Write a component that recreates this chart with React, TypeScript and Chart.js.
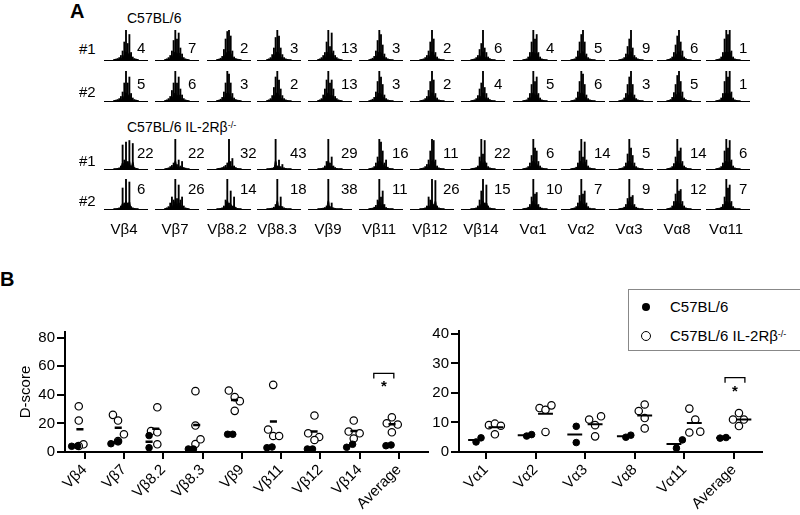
import React, { useEffect, useRef } from 'react';
import { Chart, registerables } from 'chart.js';
Chart.register(...registerables);

const FONT = 'Arial, "Liberation Sans", Helvetica, sans-serif';

// ---------- Panel A data ----------
const vbCols = ['Vβ4', 'Vβ7', 'Vβ8.2', 'Vβ8.3', 'Vβ9', 'Vβ11', 'Vβ12', 'Vβ14'];
const vaCols = ['Vα1', 'Vα2', 'Vα3', 'Vα8', 'Vα11'];
const histCols = [...vbCols, ...vaCols];

const wt1Scores = [4, 7, 2, 3, 13, 3, 2, 6, 4, 5, 9, 6, 1];
const wt2Scores = [5, 6, 3, 2, 13, 3, 2, 4, 5, 6, 3, 5, 1];
const ko1Scores = [22, 22, 32, 43, 29, 16, 11, 22, 6, 14, 5, 14, 6];
const ko2Scores = [6, 26, 14, 18, 38, 11, 26, 15, 10, 7, 9, 12, 7];

const wt1Peaks = [
  [2, 3, 5, 8, 15, 30, 60, 100, 55, 85, 25, 10, 5, 3, 2],
  [2, 4, 8, 15, 30, 65, 100, 70, 90, 40, 20, 8, 4, 2, 1],
  [2, 3, 6, 12, 35, 70, 95, 100, 80, 30, 10, 5, 3, 2, 1],
  [2, 4, 8, 18, 40, 75, 100, 80, 40, 18, 8, 4, 2, 1, 1],
  [2, 4, 8, 15, 25, 60, 100, 45, 90, 30, 15, 8, 4, 2, 1],
  [1, 3, 6, 12, 30, 65, 100, 85, 50, 20, 8, 4, 2, 1, 1],
  [1, 2, 4, 8, 15, 30, 60, 100, 70, 25, 10, 4, 2, 1, 1],
  [1, 2, 4, 8, 15, 35, 55, 100, 40, 25, 10, 5, 2, 1, 1],
  [1, 2, 4, 10, 25, 60, 100, 70, 85, 25, 10, 4, 2, 1, 1],
  [1, 2, 4, 10, 30, 60, 85, 100, 60, 20, 8, 4, 2, 1, 1],
  [1, 2, 4, 8, 20, 45, 70, 100, 40, 15, 8, 4, 2, 1, 1],
  [1, 2, 5, 10, 25, 50, 80, 100, 60, 30, 10, 5, 2, 1, 1],
  [1, 2, 4, 10, 25, 70, 100, 85, 100, 30, 10, 4, 2, 1, 1],
];
const wt2Peaks = [
  [2, 3, 5, 8, 15, 30, 60, 100, 60, 80, 25, 10, 5, 3, 2],
  [2, 4, 8, 15, 35, 60, 100, 60, 80, 40, 20, 8, 4, 2, 1],
  [2, 3, 6, 12, 30, 60, 100, 90, 60, 25, 10, 5, 3, 2, 1],
  [2, 4, 8, 18, 45, 80, 100, 70, 40, 18, 8, 4, 2, 1, 1],
  [2, 4, 8, 20, 40, 70, 100, 60, 70, 40, 15, 8, 4, 2, 1],
  [1, 3, 6, 12, 30, 65, 100, 80, 55, 20, 8, 4, 2, 1, 1],
  [1, 2, 4, 8, 15, 35, 65, 100, 70, 25, 10, 4, 2, 1, 1],
  [1, 2, 4, 8, 18, 40, 60, 100, 45, 25, 10, 5, 2, 1, 1],
  [1, 2, 4, 10, 25, 55, 100, 65, 80, 25, 10, 4, 2, 1, 1],
  [1, 2, 4, 10, 30, 65, 100, 90, 55, 20, 8, 4, 2, 1, 1],
  [1, 2, 4, 10, 25, 55, 80, 100, 55, 20, 8, 4, 2, 1, 1],
  [1, 2, 5, 12, 28, 55, 85, 100, 65, 30, 10, 5, 2, 1, 1],
  [1, 2, 4, 10, 25, 65, 100, 80, 100, 30, 10, 4, 2, 1, 1],
];
const ko1Peaks = [
  [1, 1, 2, 4, 10, 80, 30, 90, 25, 95, 10, 85, 5, 2, 1],
  [1, 2, 4, 8, 12, 20, 100, 15, 30, 10, 25, 5, 3, 1, 1],
  [1, 2, 3, 5, 8, 12, 20, 100, 25, 35, 10, 5, 2, 1, 1],
  [1, 1, 2, 3, 5, 100, 10, 30, 8, 15, 4, 2, 1, 1, 1],
  [1, 1, 2, 4, 10, 25, 100, 20, 40, 10, 5, 2, 1, 1, 1],
  [1, 2, 4, 8, 20, 40, 100, 90, 60, 20, 30, 6, 2, 1, 1],
  [1, 2, 4, 8, 15, 30, 60, 100, 95, 30, 10, 4, 2, 1, 1],
  [1, 2, 3, 5, 10, 40, 100, 50, 95, 20, 8, 4, 2, 1, 1],
  [1, 2, 4, 8, 20, 45, 100, 70, 60, 25, 10, 4, 2, 1, 1],
  [1, 2, 3, 6, 20, 60, 100, 40, 90, 30, 10, 4, 2, 1, 1],
  [1, 2, 4, 8, 20, 50, 100, 70, 45, 20, 8, 4, 2, 1, 1],
  [1, 2, 4, 8, 18, 40, 100, 60, 70, 25, 10, 5, 2, 1, 1],
  [1, 2, 4, 8, 20, 60, 100, 70, 95, 30, 10, 4, 2, 1, 1],
];
const ko2Peaks = [
  [1, 1, 2, 4, 10, 70, 20, 100, 20, 90, 8, 4, 2, 1, 1],
  [2, 4, 8, 20, 40, 30, 100, 35, 80, 30, 40, 10, 4, 2, 1],
  [1, 1, 2, 4, 10, 30, 100, 20, 60, 10, 40, 5, 2, 1, 1],
  [1, 1, 2, 3, 6, 15, 100, 10, 40, 8, 4, 2, 1, 1, 1],
  [1, 1, 2, 3, 5, 10, 100, 8, 20, 4, 2, 1, 1, 1, 1],
  [1, 2, 3, 6, 12, 30, 100, 40, 60, 15, 5, 2, 1, 1, 1],
  [1, 1, 2, 4, 10, 40, 30, 100, 15, 95, 10, 4, 2, 1, 1],
  [1, 1, 2, 4, 10, 30, 60, 100, 20, 80, 10, 4, 2, 1, 1],
  [1, 2, 3, 6, 15, 40, 100, 50, 55, 15, 6, 3, 1, 1, 1],
  [1, 2, 4, 8, 20, 45, 100, 50, 60, 20, 8, 3, 1, 1, 1],
  [1, 2, 3, 6, 15, 35, 100, 40, 45, 15, 6, 3, 1, 1, 1],
  [1, 2, 4, 10, 25, 50, 100, 60, 65, 25, 10, 4, 2, 1, 1],
  [1, 2, 3, 6, 15, 40, 100, 70, 80, 25, 8, 3, 1, 1, 1],
];

// ---------- Panel B data ----------
const vbCategories = [...vbCols, 'Average'];
const vbWT = [[4.0, 4.2], [5.8, 7.3], [11.5, 3.0], [2.1, 2.1], [12.4, 12.4], [3.0, 3.5], [2.1, 2.1], [3.3, 5.4], [4.4, 4.9]];
const vbKO = [
  [32.0, 22.0, 5.4, 4.2], [26.0, 22.0, 12.4, 7.6], [31.3, 14.7, 13.8, 5.4], [42.6, 18.5, 5.6, 8.9],
  [43.0, 38.4, 35.6, 28.8], [47.0, 15.7, 11.2, 11.2], [25.5, 13.1, 10.5, 8.4], [22.0, 14.3, 13.1, 9.4],
  [24.3, 20.1, 19.2, 13.8],
];
const vbWTJitter = [[-0.33, -0.18], [-0.33, -0.15], [-0.36, -0.36], [-0.36, -0.23], [-0.36, -0.23], [-0.36, -0.23], [-0.33, -0.2], [-0.33, -0.18], [-0.33, -0.2]];
const vbKOJitter = [
  [-0.15, -0.15, -0.03, -0.15], [-0.28, -0.15, 0, -0.15], [-0.15, -0.31, -0.15, -0.15], [-0.18, -0.18, -0.18, -0.05],
  [-0.33, -0.18, -0.05, -0.18], [-0.2, -0.33, -0.2, -0.05], [-0.15, -0.31, -0.03, -0.15], [-0.15, -0.28, 0, -0.15],
  [-0.18, -0.31, -0.03, -0.18],
];
const vbYTicks = [0, 20, 40, 60, 80];

const vaCategories = [...vaCols, 'Average'];
const vaWT = [[3.4, 4.8], [5.4, 5.9], [8.7, 3.2], [5.0, 5.7], [1.3, 4.1], [4.7, 4.9]];
const vaKO = [[9.1, 9.6, 8.9, 6.0], [14.9, 14.3, 15.8, 6.8], [11.0, 9.1, 12.1, 5.3], [13.9, 16.1, 11.5, 8.0], [14.7, 11.0, 6.6, 6.9], [13.2, 11.0, 11.0, 8.8]];
const vaWTJitter = [[-0.2, -0.1], [-0.18, -0.08], [-0.18, -0.18], [-0.18, -0.08], [-0.16, -0.04], [-0.28, -0.16]];
const vaKOJitter = [[0.06, 0.18, 0.3, 0.18], [0.08, 0.2, 0.32, 0.2], [0.08, 0.2, 0.32, 0.2], [0.08, 0.2, 0.2, 0.2], [0.1, 0.22, 0.1, 0.32], [0.1, -0.02, 0.2, 0.1]];
const vaYTicks = [0, 10, 20, 30, 40];

const legendLabels = ['C57BL/6', 'C57BL/6 IL-2Rβ'];

// ---------- Components ----------
function Spectra({ peaks, left, top, width, height }: { peaks: number[]; left: number; top: number; width: number; height: number }) {
  const ref = useRef<HTMLCanvasElement>(null);
  useEffect(() => {
    const pts = peaks.map((v, i) => ({ x: i, y: v }));
    const chart = new Chart(ref.current!, {
      type: 'bar',
      data: {
        datasets: [
          { type: 'bar', data: pts, backgroundColor: '#000', barThickness: 1.2, order: 0 } as any,
          {
            type: 'line', data: pts.map((p) => ({ x: p.x, y: p.y * 0.28 })), borderColor: '#000', borderWidth: 1,
            backgroundColor: '#000', fill: 'origin', pointRadius: 0, cubicInterpolationMode: 'monotone', order: 1,
          } as any,
        ],
      },
      options: {
        animation: false,
        responsive: false,
        maintainAspectRatio: false,
        events: [],
        layout: { padding: { bottom: 1 } },
        plugins: { legend: { display: false }, tooltip: { enabled: false } },
        scales: {
          x: {
            type: 'linear', display: true, min: -6, max: 20, offset: false,
            grid: { display: false, drawTicks: false }, ticks: { display: false },
            border: { display: true, color: '#000', width: 1 },
          },
          y: { display: false, min: 0, max: 100 },
        },
      },
    } as any);
    return () => chart.destroy();
  }, []);
  return <canvas ref={ref} width={width} height={height} style={{ position: 'absolute', left, top, width, height }} />;
}

type ScatterProps = {
  left: number; top: number; width: number; height: number;
  yAxisWidth: number; xAxisHeight: number; padTop: number; padRight: number;
  xMin: number; xMax: number; yMax: number; yTicks: number[];
  categories: string[]; wt: number[][]; ko: number[][]; wtJit: number[][]; koJit: number[][];
  meanHalf: number; meanWidth: number; wtMeanX?: number; koMeanX?: number;
  bracket: { cat: number; x0: number; x1: number; top: number; leg: number; starX: number; starY: number };
  yTitle?: string; titlePad?: number;
};

const avg = (a: number[]) => a.reduce((s, v) => s + v, 0) / a.length;

function ScatterPanel(p: ScatterProps) {
  const ref = useRef<HTMLCanvasElement>(null);
  useEffect(() => {
    const wtPts: any[] = [];
    const koPts: any[] = [];
    const means: any[] = [];
    p.categories.forEach((_, i) => {
      p.wt[i].forEach((v, k) => wtPts.push({ x: i + p.wtJit[i][k], y: v }));
      p.ko[i].forEach((v, k) => koPts.push({ x: i + p.koJit[i][k], y: v }));
      const groups: [number[], number][] = [
        [p.wt[i], p.wtMeanX !== undefined ? p.wtMeanX : avg(p.wtJit[i])],
        [p.ko[i], p.koMeanX !== undefined ? p.koMeanX : avg(p.koJit[i])],
      ];
      groups.forEach(([vals, c]) => {
        const m = avg(vals);
        means.push({ x: i + c - p.meanHalf, y: m }, { x: i + c + p.meanHalf, y: m }, { x: i + c + p.meanHalf, y: null });
      });
    });
    const b = p.bracket;
    const bracketPts = [
      { x: b.cat + b.x0, y: b.leg }, { x: b.cat + b.x0, y: b.top },
      { x: b.cat + b.x1, y: b.top }, { x: b.cat + b.x1, y: b.leg },
    ];
    const starPlugin = {
      id: 'sigStar',
      afterDatasetsDraw(chart: any) {
        const ctx = chart.ctx;
        const xs = chart.scales.x;
        const ys = chart.scales.y;
        ctx.save();
        ctx.fillStyle = '#000';
        ctx.font = `bold 15px ${FONT}`;
        ctx.textAlign = 'center';
        ctx.textBaseline = 'middle';
        ctx.fillText('*', xs.getPixelForValue(b.cat + b.starX), ys.getPixelForValue(b.starY) + 3);
        ctx.restore();
      },
    };
    const chart = new Chart(ref.current!, {
      type: 'scatter',
      data: {
        datasets: [
          { label: 'wt', data: wtPts, pointRadius: 3.3, pointBackgroundColor: '#000', pointBorderColor: '#000', pointBorderWidth: 1, clip: false } as any,
          { label: 'ko', data: koPts, pointRadius: 3.7, pointBackgroundColor: '#fff', pointBorderColor: '#000', pointBorderWidth: 1.2, clip: false } as any,
          { label: 'mean', data: means, showLine: true, spanGaps: false, pointRadius: 0, borderColor: '#000', borderWidth: p.meanWidth, order: -1, clip: false } as any,
          { label: 'bracket', data: bracketPts, showLine: true, pointRadius: 0, borderColor: '#000', borderWidth: 1.3, clip: false } as any,
        ],
      },
      options: {
        animation: false,
        responsive: false,
        maintainAspectRatio: false,
        events: [],
        layout: { padding: { top: p.padTop, right: p.padRight, left: 0, bottom: 0 } },
        plugins: { legend: { display: false }, tooltip: { enabled: false } },
        scales: {
          x: {
            type: 'linear',
            min: p.xMin,
            max: p.xMax,
            bounds: 'data',
            afterBuildTicks: (s: any) => { s.ticks = p.categories.map((_, i) => ({ value: i })); },
            afterFit: (s: any) => { s.height = p.xAxisHeight; },
            ticks: {
              autoSkip: false,
              maxRotation: 45,
              minRotation: 45,
              padding: 2,
              color: '#000',
              font: { family: FONT, size: 15 },
              callback: (v: any) => p.categories[Math.round(Number(v))] ?? '',
            },
            grid: { drawOnChartArea: false, drawTicks: true, tickLength: 7, color: '#000', lineWidth: 2 },
            border: { display: true, color: '#000', width: 2 },
          },
          y: {
            type: 'linear',
            min: 0,
            max: p.yMax,
            bounds: 'data',
            afterBuildTicks: (s: any) => { s.ticks = p.yTicks.map((v) => ({ value: v })); },
            afterFit: (s: any) => { s.width = p.yAxisWidth; },
            ticks: { padding: 2, color: '#000', font: { family: FONT, size: 15 }, callback: (v: any) => String(v) },
            grid: { drawOnChartArea: false, drawTicks: true, tickLength: 8, color: '#000', lineWidth: 2 },
            border: { display: true, color: '#000', width: 2 },
            title: p.yTitle
              ? { display: true, text: p.yTitle, color: '#000', font: { family: FONT, size: 15 }, padding: { top: p.titlePad || 0, bottom: 0 } }
              : { display: false },
          },
        },
      },
      plugins: [starPlugin],
    } as any);
    return () => chart.destroy();
  }, []);
  return <canvas ref={ref} width={p.width} height={p.height} style={{ position: 'absolute', left: p.left, top: p.top, width: p.width, height: p.height }} />;
}

const txt = (s: React.CSSProperties): React.CSSProperties => ({ position: 'absolute', whiteSpace: 'nowrap', fontSize: 14, lineHeight: '16px', ...s });

export default function App() {
  const colLefts = [104, 155, 207, 257, 308, 359, 410, 461, 513, 561, 609, 657, 706];
  const rows = [
    { label: '#1', base: 60, peaks: wt1Peaks, scores: wt1Scores, numTop: 40, labTop: 41 },
    { label: '#2', base: 101, peaks: wt2Peaks, scores: wt2Scores, numTop: 76, labTop: 84 },
    { label: '#1', base: 169, peaks: ko1Peaks, scores: ko1Scores, numTop: 145, labTop: 153 },
    { label: '#2', base: 209, peaks: ko2Peaks, scores: ko2Scores, numTop: 181, labTop: 193 },
  ];
  const hW = 44;
  const hH = 31;
  return (
    <div style={{ position: 'absolute', left: 0, top: 0, width: 800, height: 515, background: '#fff', fontFamily: FONT, color: '#000', overflow: 'hidden' }}>
      <div style={txt({ left: 70, top: 0, fontSize: 20, lineHeight: '22px', fontWeight: 'bold' })}>A</div>
      <div style={txt({ left: 127, top: 10 })}>C57BL/6</div>
      <div style={txt({ left: 127, top: 119 })}>
        C57BL/6 IL-2Rβ<sup style={{ fontSize: 9, verticalAlign: 'top', position: 'relative', top: -2 }}>-/-</sup>
      </div>
      {rows.map((r, ri) => (
        <React.Fragment key={ri}>
          <div style={txt({ left: 79, top: r.labTop, fontSize: 15 })}>{r.label}</div>
          {histCols.map((c, ci) => (
            <React.Fragment key={c}>
              <Spectra peaks={r.peaks[ci]} left={colLefts[ci]} top={r.base - hH + 1} width={hW} height={hH} />
              <div style={txt({ left: colLefts[ci] + 33, top: r.numTop, fontSize: 15 })}>{r.scores[ci]}</div>
            </React.Fragment>
          ))}
        </React.Fragment>
      ))}
      {histCols.map((c, ci) => (
        <div key={c} style={txt({ left: colLefts[ci] + 20, top: 221, fontSize: 15, transform: 'translateX(-50%)' })}>{c}</div>
      ))}

      <div style={txt({ left: 0, top: 268, fontSize: 20, lineHeight: '22px', fontWeight: 'bold' })}>B</div>

      <ScatterPanel
        left={0} top={320} width={440} height={195}
        yAxisWidth={65} xAxisHeight={63} padTop={12} padRight={12}
        xMin={-0.5} xMax={8.74} yMax={84} yTicks={vbYTicks}
        categories={vbCategories} wt={vbWT} ko={vbKO} wtJit={vbWTJitter} koJit={vbKOJitter}
        meanHalf={0.09} meanWidth={2.5}
        bracket={{ cat: 8, x0: -0.64, x1: -0.13, top: 55, leg: 51.5, starX: -0.38, starY: 48 }}
        yTitle="D-score" titlePad={17}
      />
      <ScatterPanel
        left={420} top={320} width={380} height={195}
        yAxisWidth={39} xAxisHeight={63} padTop={10} padRight={38}
        xMin={-0.544} xMax={5.565} yMax={41} yTicks={vaYTicks}
        categories={vaCategories} wt={vaWT} ko={vaKO} wtJit={vaWTJitter} koJit={vaKOJitter}
        meanHalf={0.15} meanWidth={2} wtMeanX={-0.21} koMeanX={0.2}
        bracket={{ cat: 5, x0: -0.18, x1: 0.22, top: 25.2, leg: 23.5, starX: 0.02, starY: 21.5 }}
      />

      <div style={{ position: 'absolute', left: 628, top: 289, width: 180, height: 60, border: '1px solid #888', background: '#fff' }}>
        <div style={{ position: 'absolute', left: 13, top: 13, width: 8, height: 8, borderRadius: '50%', background: '#000' }} />
        <div style={txt({ left: 41, top: 9, fontSize: 15 })}>{legendLabels[0]}</div>
        <div style={{ position: 'absolute', left: 12, top: 41, width: 8, height: 8, borderRadius: '50%', border: '1px solid #000', background: '#fff' }} />
        <div style={txt({ left: 41, top: 38, fontSize: 15 })}>
          {legendLabels[1]}<sup style={{ fontSize: 9, verticalAlign: 'top', position: 'relative', top: -2 }}>-/-</sup>
        </div>
      </div>
    </div>
  );
}
